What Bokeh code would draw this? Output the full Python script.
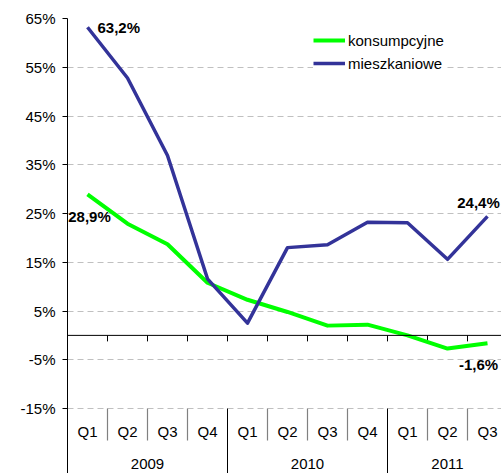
from bokeh.plotting import figure
from bokeh.models import Range1d, FixedTicker, Legend, LegendItem, Span, PrintfTickFormatter
from bokeh.core.properties import value
from bokeh.embed import file_html
from bokeh.resources import INLINE

# ---------------- data ----------------
quarters = ["Q1", "Q2", "Q3", "Q4", "Q1", "Q2", "Q3", "Q4", "Q1", "Q2", "Q3"]
years = ["2009", "2010", "2011"]
quarters_per_year = [4, 4, 3]
konsumpcyjne = [28.9, 22.9, 18.7, 10.8, 7.3, 4.8, 2.0, 2.2, 0.0, -2.7, -1.6]
mieszkaniowe = [63.2, 52.8, 36.9, 11.6, 2.5, 18.0, 18.6, 23.2, 23.1, 15.6, 24.4]
y_ticks = [-15, -5, 5, 15, 25, 35, 45, 55, 65]

# ---------------- layout ----------------
FONT = "Liberation Sans"
W, H = 501, 473
BORDER_L, BORDER_T = 67, 18
CELL = 40.0          # px per category
PX_PER = 4.875       # px per percentage point
frame_w = W - BORDER_L
frame_h = H - BORDER_T
y_top = y_ticks[-1]
y_low = y_ticks[0]
y_bot = y_top - frame_h / PX_PER
x_end = -0.5 + frame_w / CELL

GREEN = "#00FF00"
BLUE = "#333399"

n = len(quarters)
idx = list(range(n))

p = figure(width=W, height=H, output_backend="svg", toolbar_location=None,
           x_range=Range1d(-0.5, x_end), y_range=Range1d(y_bot, y_top),
           x_axis_location=None,
           min_border_left=BORDER_L, min_border_top=BORDER_T,
           min_border_right=0, min_border_bottom=0,
           outline_line_color=None, background_fill_color="white",
           border_fill_color="white")

# y axis
yaxis = p.yaxis[0]
yaxis.ticker = FixedTicker(ticks=y_ticks)
yaxis.formatter = PrintfTickFormatter(format="%d%%")
yaxis.axis_line_color = "black"
yaxis.axis_line_width = 1
yaxis.major_tick_line_color = "black"
yaxis.major_tick_out = 5
yaxis.major_tick_in = 0
yaxis.minor_tick_line_color = None
yaxis.major_label_text_font = FONT
yaxis.major_label_text_font_size = "15px"
yaxis.major_label_text_color = "black"
yaxis.major_label_standoff = 7

p.ygrid.ticker = FixedTicker(ticks=y_ticks)
p.ygrid.grid_line_color = "#c0c0c0"
p.ygrid.grid_line_dash = "6 4"
p.ygrid.grid_line_width = 1
p.xgrid.grid_line_color = None

# zero line (category axis line)
p.add_layout(Span(location=0, dimension="width", line_color="black", line_width=1))

# tick marks along zero line at category boundaries
bounds = [i + 0.5 for i in idx]
p.segment(x0=bounds, y0=[0] * n, x1=bounds, y1=[-6 / PX_PER] * n,
          line_color="black", line_width=1)

# separators in label area
year_start = []
s = 0
for c in quarters_per_year:
    year_start.append(s)
    s += c
q_sep = [b for b in bounds[:-1] if int(b + 0.5) not in year_start]
y_sep = [b for b in bounds[:-1] if int(b + 0.5) in year_start]
p.segment(x0=q_sep, y0=[y_low] * len(q_sep), x1=q_sep,
          y1=[y_low - 32 / PX_PER] * len(q_sep), line_color="#808080", line_width=1.2)
p.segment(x0=y_sep, y0=[y_low] * len(y_sep), x1=y_sep,
          y1=[y_bot] * len(y_sep), line_color="black", line_width=1)

# category labels
p.text(x=idx, y=[y_low] * n, text=quarters, y_offset=23,
       text_align="center", text_baseline="middle",
       text_font=value(FONT), text_font_size="15px", text_color="black")
year_centers = [year_start[i] + (quarters_per_year[i] - 1) / 2 for i in range(len(years))]
p.text(x=year_centers, y=[y_low] * len(years), text=years, y_offset=55,
       text_align="center", text_baseline="middle",
       text_font=value(FONT), text_font_size="15px", text_color="black")

# series
g = p.line(idx, konsumpcyjne, line_color=GREEN, line_width=4, line_join="round")
b = p.line(idx, mieszkaniowe, line_color=BLUE, line_width=3.5, line_join="round")


def fmt(v):
    return f"{v:.1f}%".replace(".", ",")


# data labels: first and last point of each series
lab_x = [idx[0], idx[0], idx[-1], idx[-1]]
lab_y = [mieszkaniowe[0], konsumpcyjne[0], mieszkaniowe[-1], konsumpcyjne[-1]]
lab_t = [fmt(v) for v in lab_y]
lab_align = ["left", "center", "center", "center"]
lab_dx = [10, 2, -9, -9]
lab_dy = [0, 22, -14, 21]
for x, y, t, a, dx, dy in zip(lab_x, lab_y, lab_t, lab_align, lab_dx, lab_dy):
    p.text(x=[x], y=[y], text=[t], x_offset=dx, y_offset=dy,
           text_align=a, text_baseline="middle",
           text_font=value(FONT), text_font_size="15px",
           text_font_style="bold", text_color="black")

legend = Legend(items=[LegendItem(label="konsumpcyjne", renderers=[g]),
                       LegendItem(label="mieszkaniowe", renderers=[b])],
                location=(246, 400), padding=6, margin=0, spacing=3,
                glyph_width=32, glyph_height=20, label_height=20,
                label_standoff=3, border_line_color=None,
                background_fill_color="white", background_fill_alpha=1,
                label_text_font=FONT, label_text_font_size="15px",
                label_text_color="black")
p.add_layout(legend)

open("out.html", "w").write(file_html(p, INLINE))
